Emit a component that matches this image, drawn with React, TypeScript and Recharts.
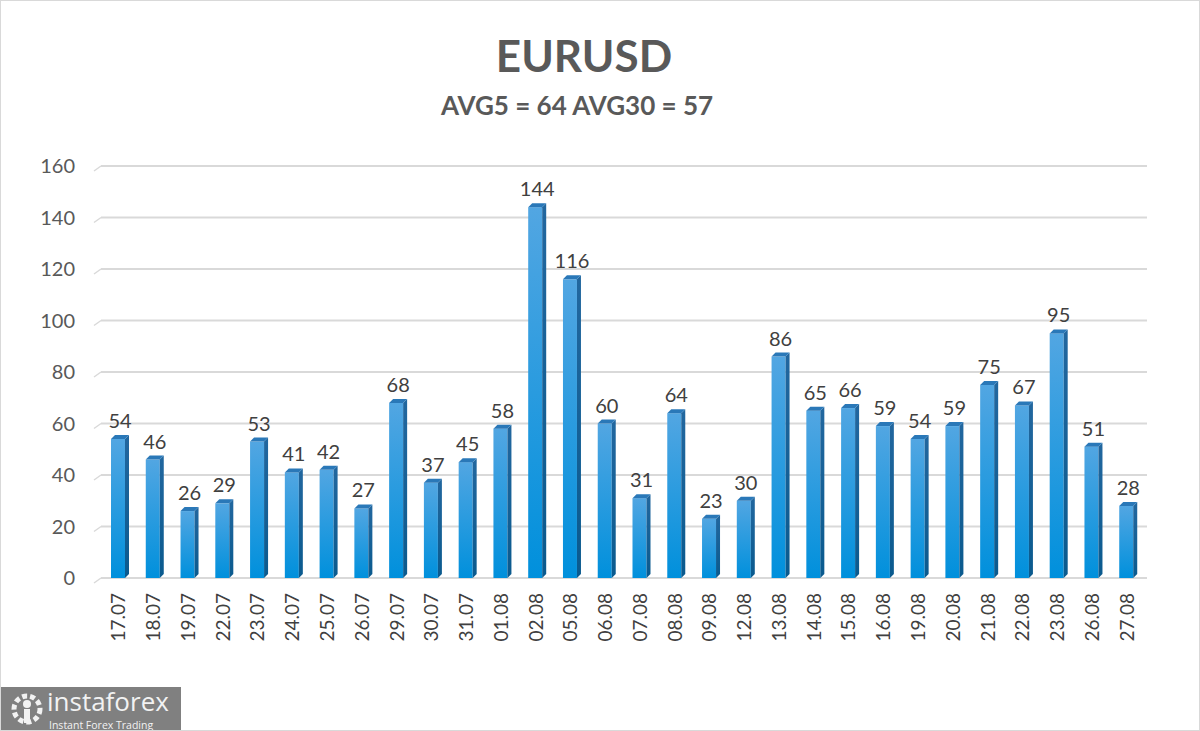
import React from "react";
import { BarChart, Bar, XAxis, YAxis, CartesianGrid, LabelList } from "recharts";

const dates = [
  "17.07", "18.07", "19.07", "22.07", "23.07", "24.07", "25.07", "26.07", "29.07", "30.07",
  "31.07", "01.08", "02.08", "05.08", "06.08", "07.08", "08.08", "09.08", "12.08", "13.08",
  "14.08", "15.08", "16.08", "19.08", "20.08", "21.08", "22.08", "23.08", "26.08", "27.08",
];
const values = [
  54, 46, 26, 29, 53, 41, 42, 27, 68, 37,
  45, 58, 144, 116, 60, 31, 64, 23, 30, 86,
  65, 66, 59, 54, 59, 75, 67, 95, 51, 28,
];
const yTicks = [0, 20, 40, 60, 80, 100, 120, 140, 160];

const data = dates.map((d, i) => ({ date: d, value: values[i] }));

const FONT = "Lato, 'Open Sans', sans-serif";
const DEPTH = 4;

const Bar3D = (props: any) => {
  const { x, y, width, height } = props;
  if (!height || height <= 0) return null;
  return (
    <g>
      <rect x={x} y={y} width={width} height={height} fill="url(#frontGrad)" />
      <polygon
        points={`${x + width},${y} ${x + width + DEPTH},${y - DEPTH} ${x + width + DEPTH},${y + height - DEPTH} ${x + width},${y + height}`}
        fill="url(#sideGrad)"
      />
      <polygon
        points={`${x},${y} ${x + DEPTH},${y - DEPTH} ${x + width + DEPTH},${y - DEPTH} ${x + width},${y}`}
        fill="#2a78b8"
      />
    </g>
  );
};

const GridLine = (props: any) => {
  const { x1, x2, y1 } = props;
  return (
    <g key={`g-${y1}`}>
      <line x1={x1 - 7} y1={y1 + 5} x2={x1} y2={y1} stroke="#d9d9d9" strokeWidth={1.5} />
      <line x1={x1} y1={y1} x2={x2 + 3} y2={y1} stroke="#d9d9d9" strokeWidth={2} />
    </g>
  );
};

const XTick = (props: any) => {
  const { x, y, payload } = props;
  return (
    <text
      x={x}
      y={y}
      transform={`rotate(-90, ${x}, ${y})`}
      textAnchor="end"
      dy={7}
      fill="#404040"
      fontSize={19}
      fontFamily={FONT}
    >
      {payload.value}
    </text>
  );
};

const ValueLabel = (props: any) => {
  const { x, y, width, value } = props;
  return (
    <text
      x={x + width / 2 + 2}
      y={y - 11}
      textAnchor="middle"
      fill="#404040"
      fontSize={20}
      fontFamily={FONT}
    >
      {value}
    </text>
  );
};

export default function App() {
  return (
    <div
      style={{
        position: "relative",
        width: 1198,
        height: 729,
        border: "1px solid #d9d9d9",
        background: "#fff",
        fontFamily: FONT,
        overflow: "hidden",
      }}
    >
      <style>{"body{margin:0}"}</style>
      <div
        style={{
          position: "absolute",
          top: 28,
          left: 0,
          width: 1166,
          textAlign: "center",
          fontSize: 44,
          fontWeight: 700,
          color: "#595959",
        }}
      >
        EURUSD
      </div>
      <div
        style={{
          position: "absolute",
          top: 88,
          left: 0,
          width: 1152,
          textAlign: "center",
          fontSize: 26,
          fontWeight: 700,
          color: "#595959",
        }}
      >
        AVG5 = 64 AVG30 = 57
      </div>
      <BarChart
        width={1198}
        height={729}
        data={data}
        margin={{ top: 165, right: 55, left: 20, bottom: 0 }}
        barCategoryGap={0}
      >
        <defs>
          <linearGradient id="frontGrad" x1="0" y1="0" x2="0" y2="1">
            <stop offset="0%" stopColor="#52a6e2" />
            <stop offset="100%" stopColor="#0090dc" />
          </linearGradient>
          <linearGradient id="sideGrad" x1="0" y1="0" x2="0" y2="1">
            <stop offset="0%" stopColor="#22679f" />
            <stop offset="100%" stopColor="#0a5a8e" />
          </linearGradient>
        </defs>
        <CartesianGrid vertical={false} horizontal={GridLine as any} />
        <XAxis
          dataKey="date"
          axisLine={false}
          tickLine={false}
          interval={0}
          height={152}
          tick={<XTick />}
          tickMargin={9}
        />
        <YAxis
          domain={[0, 160]}
          ticks={yTicks}
          axisLine={false}
          tickLine={false}
          width={80}
          tickMargin={20}
          tick={{ fill: "#595959", fontSize: 20, fontFamily: FONT }}
        />
        <Bar dataKey="value" barSize={14} shape={<Bar3D />} isAnimationActive={false}>
          <LabelList dataKey="value" content={<ValueLabel />} />
        </Bar>
      </BarChart>
      <div
        style={{
          position: "absolute",
          left: 0,
          top: 686,
          width: 180,
          height: 44,
          background: "#808080",
          color: "#f2f2f2",
        }}
      >
        <svg width="34" height="34" style={{ position: "absolute", left: 9, top: 5 }} viewBox="0 0 34 34">
          <circle cx="17" cy="17" r="13" fill="none" stroke="#f2f2f2" strokeWidth="5" strokeDasharray="5 3" />
          <circle cx="17" cy="12" r="4" fill="#f2f2f2" />
          <rect x="14" y="17" width="6" height="14" fill="#f2f2f2" />
        </svg>
        <div
          style={{
            position: "absolute",
            left: 46,
            top: -4,
            fontSize: 26,
            lineHeight: "normal",
            fontFamily: "'Open Sans', sans-serif",
          }}
        >
          instaforex
        </div>
        <div
          style={{
            position: "absolute",
            left: 48,
            top: 31,
            fontSize: 10.5,
            lineHeight: "normal",
            fontFamily: "'Open Sans', sans-serif",
          }}
        >
          Instant Forex Trading
        </div>
      </div>
    </div>
  );
}
